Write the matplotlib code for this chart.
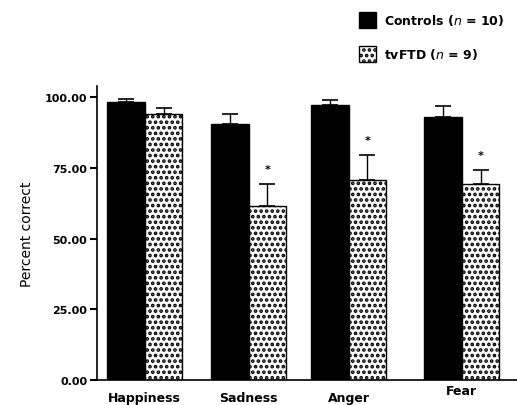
import numpy as np
import matplotlib.pyplot as plt
from matplotlib.patches import Patch

plt.rcParams['hatch.linewidth'] = 1.8

categories = ['Happiness', 'Sadness', 'Anger', 'Fear']
positions = [0, 1, 1.96, 3.05]
controls = [98.3, 90.7, 97.2, 93.2]
controls_err = [1.0, 3.3, 1.7, 3.6]
tvftd = [94.0, 61.6, 70.8, 69.4]
tvftd_err = [2.1, 7.8, 8.9, 5.0]
signif = [False, True, True, True]
yticks = [0, 25, 50, 75, 100]

width = 0.36
x = np.array(positions)

fig = plt.figure(figsize=(5.17, 4.06), dpi=100)
ax = fig.add_axes([0.1876, 0.0616, 0.8124, 0.724])

ax.bar(x - width / 2, controls, width, color='black', edgecolor='black', linewidth=1)
ax.bar(x + width / 2, tvftd, width, color='white', edgecolor='black', hatch='...', linewidth=1)

ax.errorbar(x - width / 2, controls, yerr=[np.zeros(4), controls_err], fmt='none',
            ecolor='black', elinewidth=1, capsize=6, capthick=1.2)
ax.errorbar(x + width / 2, tvftd, yerr=[np.zeros(4), tvftd_err], fmt='none',
            ecolor='black', elinewidth=1, capsize=6, capthick=1.2)

for xi, v, e, s in zip(x, tvftd, tvftd_err, signif):
    if s:
        ax.text(xi + width / 2, v + e + 3.5, '*', ha='center', va='bottom',
                fontsize=8, fontweight='bold')

ax.set_xlim(-0.46, 3.58)
ax.set_ylim(0, 104)
ax.set_yticks(yticks)
ax.set_yticklabels(['%.2f' % t for t in yticks], fontweight='bold', fontsize=8)
ax.tick_params(axis='y', length=5, width=1.5, pad=2)
ax.set_xticks([])
ax.spines['top'].set_visible(False)
ax.spines['right'].set_visible(False)
ax.spines['left'].set_linewidth(1.2)
ax.spines['bottom'].set_linewidth(1.2)
ax.set_ylabel('Percent correct', fontsize=10, labelpad=8)

# category labels, Fear sits a little higher in the original
for xi, c in zip(x, categories):
    yoff = -0.037 if c == 'Fear' else -0.058
    ax.text(xi, yoff, c, transform=ax.get_xaxis_transform(), ha='center',
            va='center', fontsize=9, fontweight='bold')

handles = [Patch(facecolor='black', edgecolor='black'),
           Patch(facecolor='white', edgecolor='black', hatch='...')]
labels = [r'Controls ($\mathit{n}$ = 10)', r'tvFTD ($\mathit{n}$ = 9)']
fig.legend(handles, labels, loc='upper left', bbox_to_anchor=(0.672, 0.995),
           frameon=False, handlelength=1.4, handleheight=1.6, labelspacing=1.4,
           handletextpad=0.6, prop={'weight': 'bold', 'size': 9})

plt.savefig('out.png', dpi=100)
